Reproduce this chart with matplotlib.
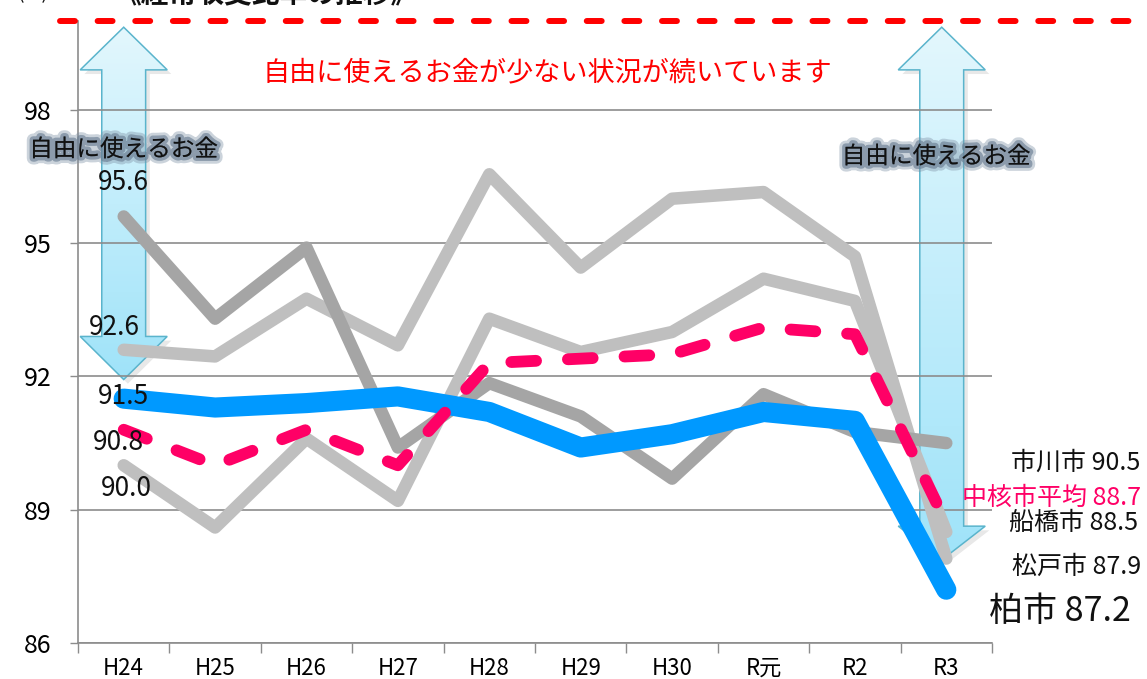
import numpy as np
import matplotlib
matplotlib.use("Agg")
import matplotlib.pyplot as plt
import matplotlib.patheffects as pe
from matplotlib.patches import Polygon
from matplotlib.colors import LinearSegmentedColormap
from matplotlib.transforms import ScaledTranslation, blended_transform_factory

plt.rcParams['font.family'] = ['Noto Sans CJK JP', 'DejaVu Sans']

# 年度
years = ["H24", "H25", "H26", "H27", "H28", "H29", "H30", "R元", "R2", "R3"]

# 経常収支比率 (%)
kashiwa = [91.5, 91.3, 91.4, 91.55, 91.2, 90.4, 90.7, 91.2, 91.0, 87.2]
ichikawa = [95.6, 93.3, 94.9, 90.4, 91.85, 91.1, 89.7, 91.6, 90.75, 90.5]
matsudo = [92.6, 92.45, 93.75, 92.7, 96.55, 94.45, 96.0, 96.15, 94.7, 87.9]
funabashi = [90.0, 88.6, 90.6, 89.2, 93.3, 92.55, 93.0, 94.2, 93.7, 88.5]
chukaku = [90.8, 90.0, 90.8, 90.0, 92.3, 92.4, 92.5, 93.1, 92.95, 88.7]

yticks = [86, 89, 92, 95, 98]
limit_line = 100

fig = plt.figure(figsize=(11.47, 6.79), dpi=100)
ax = fig.add_axes([78 / 1147, 36 / 679, 914 / 1147, 622 / 679])

x = np.arange(len(years))

# 折れ線
ax.plot(x, matsudo, color='#BFBFBF', lw=9, solid_capstyle='round', solid_joinstyle='round', zorder=2)
ax.plot(x, funabashi, color='#BFBFBF', lw=9, solid_capstyle='round', solid_joinstyle='round', zorder=2)
ax.plot(x, ichikawa, color='#A5A5A5', lw=9, solid_capstyle='round', solid_joinstyle='round', zorder=2.2)
ax.plot(x, kashiwa, color='#0099FF', lw=14.5, solid_capstyle='round', solid_joinstyle='round', zorder=3)
ax.plot(x, chukaku, color='#FF0066', lw=8.5, dashes=(2.1, 2.7), dash_capstyle='round',
        dash_joinstyle='round', zorder=4)

ax.set_xlim(-0.5, len(years) - 0.5)
ax.set_ylim(86, 100)

# 100% の赤い破線
tr = blended_transform_factory(fig.transFigure, ax.transData)
ax.plot([60 / 1147, 1.0], [limit_line, limit_line], transform=tr, color='#FF0000', lw=4.3,
        dashes=(2.5, 3.8), dash_capstyle='round', clip_on=False, zorder=5)

# 軸
ax.set_yticks(yticks)
ax.set_yticklabels([str(v) for v in yticks], fontsize=18)
ax.set_xticks(x)
ax.set_xticklabels(years, fontsize=16)
ax.set_xticks(np.arange(-0.5, len(years)), minor=True)
ax.tick_params(axis='x', which='major', length=0, pad=10)
ax.tick_params(axis='x', which='minor', length=7, color='#8C8C8C', width=1)
ax.tick_params(axis='y', length=6, color='#8C8C8C', width=1, pad=13)
ax.yaxis.grid(True, color='#8C8C8C', lw=1.2)
for s in ['top', 'right']:
    ax.spines[s].set_visible(False)
for s in ['left', 'bottom']:
    ax.spines[s].set_color('#8C8C8C')
    ax.spines[s].set_linewidth(1.2)


# 上下両方向の矢印
cmap = LinearSegmentedColormap.from_list('arr', ['#E3F7FD', '#9FE3F9'])
shadow_tr = ax.transData + ScaledTranslation(3 / 72, -3 / 72, fig.dpi_scale_trans)


def draw_arrow(xc, ytt, ytb, ybb, ybt, hs=0.24, hh=0.476):
    pts = [(xc, ytt), (xc + hh, ytb), (xc + hs, ytb), (xc + hs, ybb), (xc + hh, ybb),
           (xc, ybt), (xc - hh, ybb), (xc - hs, ybb), (xc - hs, ytb), (xc - hh, ytb)]
    sh = Polygon(pts, closed=True, facecolor='#000000', alpha=0.09, edgecolor='none',
                 transform=shadow_tr, zorder=0.3)
    ax.add_patch(sh)
    poly = Polygon(pts, closed=True, facecolor='none', edgecolor='#5AB4CC', lw=1.1, zorder=0.7)
    ax.add_patch(poly)
    grad = np.linspace(1, 0, 256).reshape(-1, 1)
    im = ax.imshow(grad, extent=[xc - hh, xc + hh, ybt, ytt], origin='lower', aspect='auto',
                   cmap=cmap, zorder=0.5)
    im.set_clip_path(poly)


draw_arrow(0, 99.86, 98.9, 92.9, 91.93)
draw_arrow(8.95, 99.86, 98.9, 88.63, 87.87)
ax.set_xlim(-0.5, len(years) - 0.5)
ax.set_ylim(86, 100)

glow = [pe.withStroke(linewidth=9, foreground='#7F91A5', alpha=0.4),
        pe.withStroke(linewidth=5, foreground='#6A7E93', alpha=0.65)]
ax.text(0, 97.1, "自由に使えるお金", fontsize=17, ha='center', va='center', color='#111111',
        path_effects=glow, zorder=6)
ax.text(8.89, 96.94, "自由に使えるお金", fontsize=17, ha='center', va='center', color='#111111',
        path_effects=glow, zorder=6)

ax.text(4.63, 98.83, "自由に使えるお金が少ない状況が続いています", fontsize=19.5,
        ha='center', va='center', color='#FF0000', zorder=6)

# H24 のデータラベル
left_labels = [(ichikawa[0], (0, 24.5)), (matsudo[0], (-7, 16)), (kashiwa[0], (0, 1.4)),
               (chukaku[0], (-3.6, -9.4)), (funabashi[0], (2, -17))]
for v, off in left_labels:
    ax.annotate(f"{v:.1f}", xy=(0, v), xytext=off, textcoords='offset points',
                ha='center', va='center', fontsize=19, color='#111111', zorder=7)

# R3 のラベル
right_labels = [("市川市", ichikawa[-1], -14, '#111111', 18, 140),
                ("中核市平均", chukaku[-1], 18, '#FF0066', 18, 140),
                ("船橋市", funabashi[-1], 6.5, '#111111', 18, 138),
                ("松戸市", matsudo[-1], -6, '#111111', 18, 140),
                ("柏市", kashiwa[-1], -16, '#111111', 24.5, 133)]
for name, v, dy, c, fs, dx in right_labels:
    ax.annotate(f"{name} {v:.1f}", xy=(len(years) - 1, v), xytext=(dx, dy),
                textcoords='offset points', ha='right', va='center', fontsize=fs,
                color=c, annotation_clip=False, zorder=7)

# タイトル (上部で切れている)
fig.text(266 / 1147, 1 - 9 / 679, "《経常収支比率の推移》", fontsize=20, fontweight='bold',
         ha='center', va='bottom', color='#111111')
fig.text(33 / 1147, 1 - 4 / 679, "(%)", fontsize=14, ha='center', va='bottom', color='#111111')

plt.savefig("out.png", dpi=100)
